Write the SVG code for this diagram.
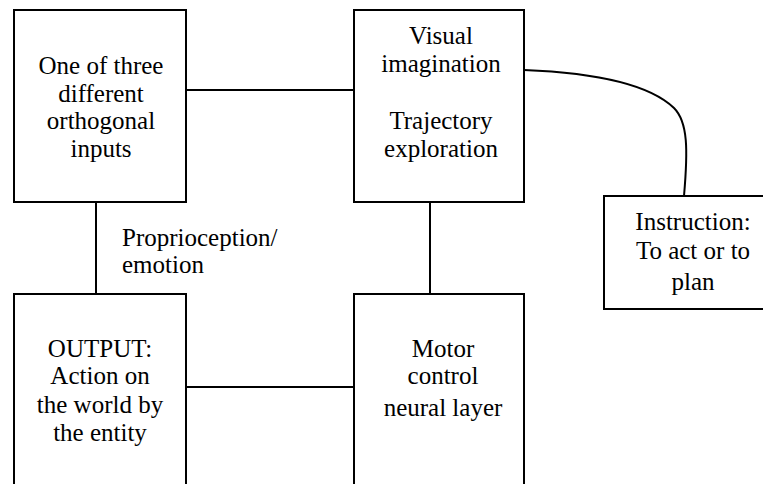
<svg xmlns="http://www.w3.org/2000/svg" width="763" height="484" viewBox="0 0 763 484">
<style>
.box{fill:#fff;stroke:#000;stroke-width:2}
.ln{fill:none;stroke:#000;stroke-width:2}
text{font-family:'Liberation Serif','Times New Roman',serif;font-size:25px;fill:#000;text-anchor:middle}
.l{text-anchor:start}
</style>
<rect width="763" height="484" fill="#fff"/>
<g id="connectors">
<line class="ln" x1="186" y1="90" x2="354" y2="90"/>
<line class="ln" x1="96" y1="202" x2="96" y2="294"/>
<line class="ln" x1="430" y1="202" x2="430" y2="294"/>
<line class="ln" x1="186" y1="387" x2="354" y2="387"/>
<path class="ln" d="M524,70 C600,73 650,85 674,108 C688,122 688,150 684,196"/>
<text class="l" x="122" y="246">Proprioception/</text>
<text class="l" x="122" y="273">emotion</text>
</g>
<g id="inputs">
<rect class="box" x="14" y="10" width="172" height="192"/>
<text x="101" y="74">One of three</text>
<text x="101" y="101.5">different</text>
<text x="101" y="129">orthogonal</text>
<text x="101" y="156.5">inputs</text>
</g>
<g id="visual">
<rect class="box" x="354" y="10" width="170" height="192"/>
<text x="441" y="44">Visual</text>
<text x="441" y="72">imagination</text>
<text x="441" y="129">Trajectory</text>
<text x="441" y="157">exploration</text>
</g>
<g id="instruction">
<rect class="box" x="604" y="196" width="180" height="113"/>
<text x="693" y="230">Instruction:</text>
<text x="693" y="259">To act or to</text>
<text x="693" y="290">plan</text>
</g>
<g id="output">
<rect class="box" x="14" y="294" width="172" height="200"/>
<text x="100" y="357">OUTPUT:</text>
<text x="100" y="384">Action on</text>
<text x="100" y="413">the world by</text>
<text x="100" y="441">the entity</text>
</g>
<g id="motor">
<rect class="box" x="354" y="294" width="170" height="200"/>
<text x="443" y="357">Motor</text>
<text x="443" y="384">control</text>
<text x="443" y="416">neural layer</text>
</g>
</svg>
